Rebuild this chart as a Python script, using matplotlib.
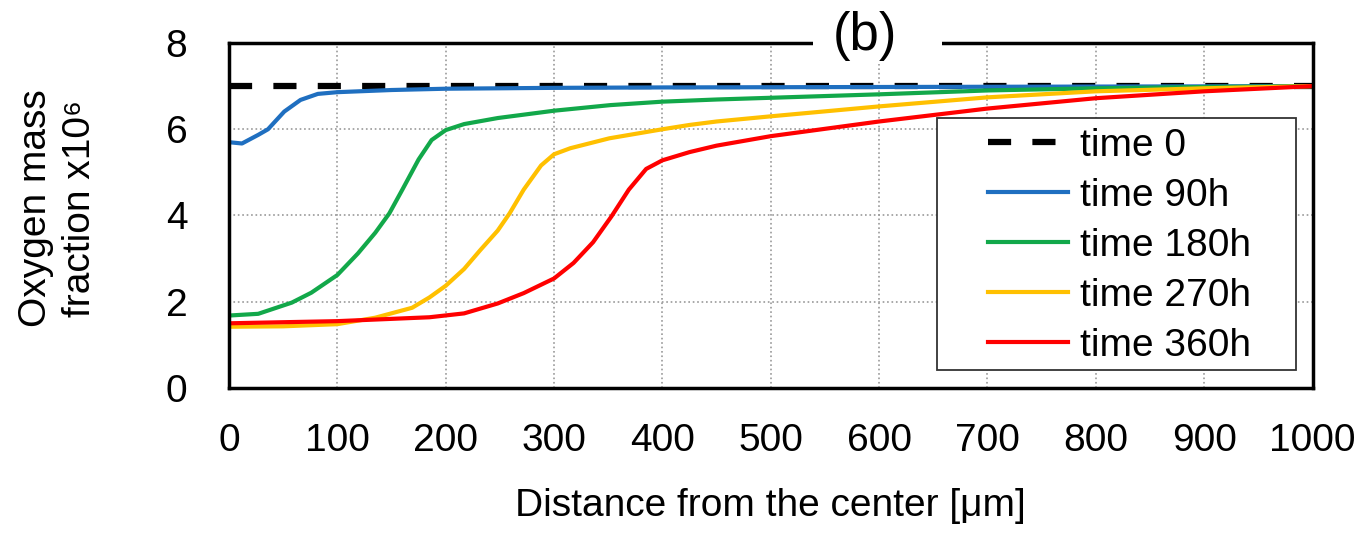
import numpy as np
import matplotlib.pyplot as plt
from matplotlib.patches import Rectangle

plt.rcParams['font.family'] = ['Liberation Sans', 'DejaVu Sans']

# distances in um, oxygen mass fraction x10^6
x0 = [0, 1000]
y0 = [7.0, 7.0]

x90 = [0, 12, 27, 36, 51, 66, 82, 100, 150, 200, 300, 400, 600, 800, 1000]
y90 = [5.70, 5.67, 5.87, 6.0, 6.41, 6.68, 6.82, 6.86, 6.91, 6.94, 6.96, 6.97, 6.98, 6.99, 7.0]

x180 = [0, 27, 58, 76, 100, 119, 135, 148, 160, 175, 187, 200, 217, 248, 300, 352, 400, 450, 500, 600, 700, 800, 900, 1000]
y180 = [1.68, 1.72, 1.98, 2.21, 2.62, 3.12, 3.6, 4.05, 4.6, 5.3, 5.75, 5.98, 6.12, 6.26, 6.43, 6.56, 6.64, 6.69, 6.73, 6.81, 6.9, 6.95, 6.98, 7.0]

x270 = [0, 50, 100, 135, 169, 185, 200, 217, 232, 248, 259, 272, 288, 300, 315, 351, 400, 425, 450, 500, 600, 700, 800, 900, 1000]
y270 = [1.42, 1.43, 1.48, 1.63, 1.86, 2.1, 2.37, 2.76, 3.2, 3.65, 4.05, 4.6, 5.16, 5.42, 5.56, 5.79, 6.0, 6.1, 6.18, 6.3, 6.53, 6.74, 6.88, 6.95, 7.0]

x360 = [0, 100, 185, 217, 248, 272, 300, 318, 336, 353, 369, 385, 400, 425, 450, 500, 600, 700, 800, 900, 1000]
y360 = [1.5, 1.55, 1.64, 1.73, 1.96, 2.2, 2.54, 2.9, 3.38, 3.98, 4.6, 5.08, 5.28, 5.47, 5.62, 5.84, 6.18, 6.48, 6.72, 6.88, 7.0]

labels = ['time 0', 'time 90h', 'time 180h', 'time 270h', 'time 360h']
colors = ['black', '#1f6fc0', '#12a84a', '#ffc000', '#ff0000']

FS = 28

fig = plt.figure(figsize=(13.63, 5.35), dpi=100)
ax = fig.add_axes([0.168, 0.2748, 0.795, 0.6448])

ax.plot(x0, y0, c=colors[0], lw=4.5, ls=(0, (3.7, 3.4)), label=labels[0])
ax.plot(x90, y90, c=colors[1], lw=3, label=labels[1])
ax.plot(x180, y180, c=colors[2], lw=3, label=labels[2])
ax.plot(x270, y270, c=colors[3], lw=3, label=labels[3])
ax.plot(x360, y360, c=colors[4], lw=3, label=labels[4])

ax.set_xlim(0, 1000)
ax.set_ylim(0, 8)
ax.set_xticks(np.arange(0, 1001, 100))
ax.set_yticks(np.arange(0, 9, 2))
ax.tick_params(length=0, labelsize=FS)
ax.tick_params(axis='x', pad=25)
ax.tick_params(axis='y', pad=30)
ax.grid(True, ls=':', c='#999999', lw=1.2)
for s in ax.spines.values():
    s.set_linewidth(2.5)

ax.set_xlabel('Distance from the center [μm]', fontsize=FS, labelpad=21)
ax.set_ylabel('Oxygen mass\nfraction x10⁶', fontsize=FS, va='center', linespacing=1.3)
ax.yaxis.set_label_coords(-0.158, 0.52)

# legend frame drawn separately (wide side margins, tight top/bottom)
ax.add_patch(Rectangle((0.653, 0.052), 0.332, 0.731, transform=ax.transAxes,
                       facecolor='white', edgecolor='#333333', lw=1.3, zorder=4))
leg = ax.legend(loc='center', bbox_to_anchor=(0.822, 0.412), fontsize=FS,
                frameon=False, handlelength=2.05, handletextpad=0.3,
                labelspacing=0.36, borderpad=0, borderaxespad=0)
leg.set_zorder(5)

# title sits on the top border
fig.add_artist(Rectangle((813 / 1363, 0.88), 129 / 1363, 0.1, transform=fig.transFigure,
                         facecolor='white', edgecolor='none', zorder=3))
fig.text(865 / 1363, 0.932, '(b)', fontsize=38, ha='center', va='center', zorder=4)

fig.savefig('out.png', dpi=100)
